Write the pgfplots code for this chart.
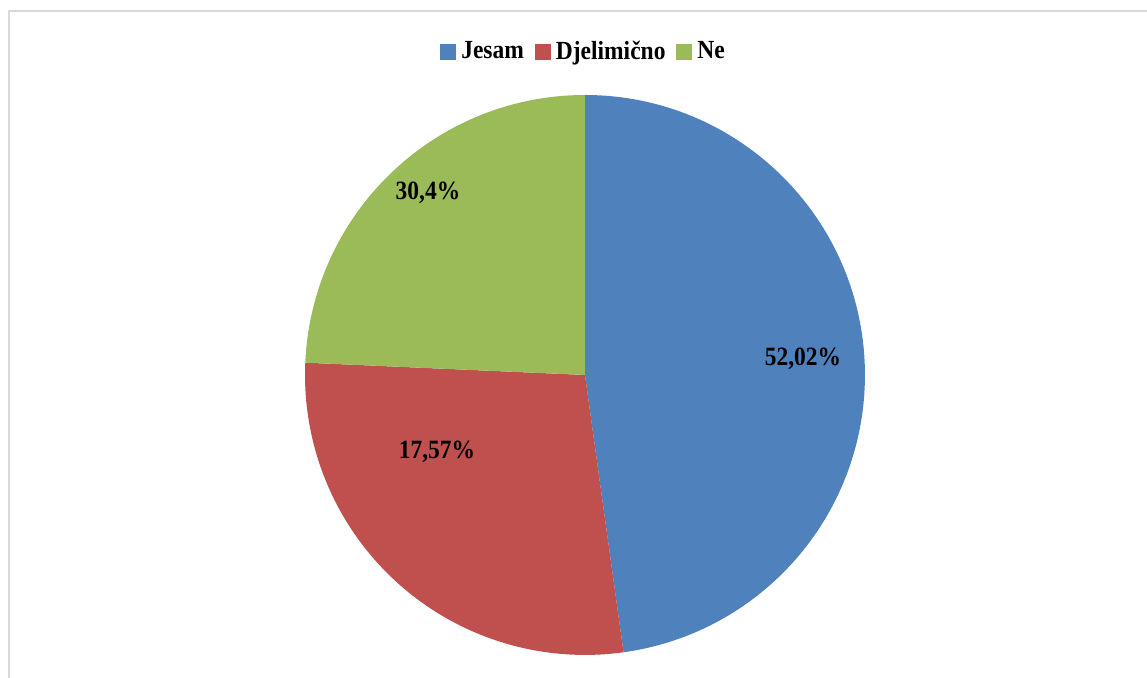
\documentclass[border=0pt]{standalone}
\usepackage{fontspec}
\setmainfont{Liberation Serif}
\usepackage{pgfplots}
\usepackage{pgfplotstable}
\pgfplotsset{compat=1.18}
\definecolor{cBlue}{HTML}{4F81BD}
\definecolor{cRed}{HTML}{C0504D}
\definecolor{cGreen}{HTML}{9BBB59}
\definecolor{cFrame}{HTML}{D9D9D9}
% share of the full circle (percent)
\pgfplotstableread{
label value
Jesam 47.8
Djelimicno 27.9
Ne 24.3
}\piedata
\pgfplotstablegetelem{0}{value}\of\piedata \let\vA\pgfplotsretval
\pgfplotstablegetelem{1}{value}\of\piedata \let\vB\pgfplotsretval
\pgfplotstablegetelem{2}{value}\of\piedata \let\vC\pgfplotsretval
\pgfmathsetmacro{\aA}{90}
\pgfmathsetmacro{\aB}{90-3.6*\vA}
\pgfmathsetmacro{\aC}{\aB-3.6*\vB}
\pgfmathsetmacro{\aD}{\aC-3.6*\vC}
\def\cx{8.109}
\def\cy{4.200}
\def\R{3.881}
\newcommand{\lbl}[1]{\scalebox{0.89}[1]{\bfseries\fontsize{10.4pt}{12pt}\selectfont #1}}
\newcommand{\leg}[1]{\scalebox{0.9}[1]{\bfseries\fontsize{10.3pt}{12pt}\selectfont #1}}
\begin{document}
\begin{tikzpicture}
\useasboundingbox (0,0) rectangle (15.9cm,9.398cm);
\begin{axis}[
  at={(0,0)}, anchor=origin,
  x=1cm, y=1cm,
  xmin=0, xmax=15.9, ymin=0, ymax=9.398,
  hide axis, clip=false,
  legend columns=3,
  legend style={draw=none, fill=none,
    at={(axis cs:8.11,8.68)}, anchor=center,
    /tikz/every even column/.append style={column sep=0.08cm},
    /tikz/every odd column/.append style={column sep=0cm},
    nodes={inner xsep=0.07cm}},
  legend cell align=left,
]
\draw[cFrame, line width=0.9pt] (axis cs:0.125,0) -- (axis cs:0.125,9.245) -- (axis cs:15.95,9.245);
\fill[cBlue] (axis cs:\cx,\cy) -- ++(\aA:\R cm) arc[start angle=\aA, end angle=\aB, radius=\R cm] -- cycle;
\fill[cRed] (axis cs:\cx,\cy) -- ++(\aB:\R cm) arc[start angle=\aB, end angle=\aC, radius=\R cm] -- cycle;
\fill[cGreen] (axis cs:\cx,\cy) -- ++(\aC:\R cm) arc[start angle=\aC, end angle=\aD, radius=\R cm] -- cycle;
\node at (axis cs:11.131,4.422) {\lbl{52,02\%}};
\node at (axis cs:6.058,3.133) {\lbl{17,57\%}};
\node at (axis cs:5.933,6.723) {\lbl{30,4\%}};
\addlegendimage{legend image code/.code={\fill[cBlue] (0cm,-0.104cm) rectangle (0.208cm,0.104cm);}}
\addlegendentry{\leg{Jesam}}
\addlegendimage{legend image code/.code={\fill[cRed] (0cm,-0.104cm) rectangle (0.208cm,0.104cm);}}
\addlegendentry{\leg{Djelimično}}
\addlegendimage{legend image code/.code={\fill[cGreen] (0cm,-0.104cm) rectangle (0.208cm,0.104cm);}}
\addlegendentry{\leg{Ne}}
\end{axis}
\end{tikzpicture}
\end{document}
